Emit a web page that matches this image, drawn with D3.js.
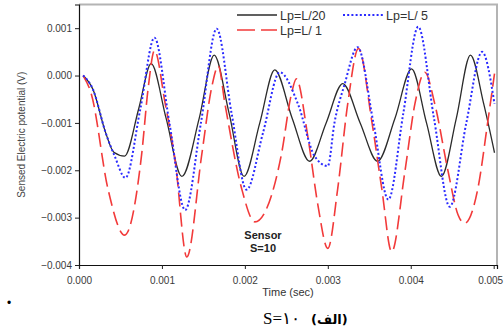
<!DOCTYPE html>
<html>
<head>
<meta charset="utf-8">
<script src="https://cdn.jsdelivr.net/npm/d3@7"></script>
<style>
  body { margin: 0; background: #fff; }
  svg { display: block; }
</style>
</head>
<body>
<div id="chart"></div>
<script>
// time (s) and sensed potential (V)
const lpL20 = [
  [0.00005, 0.0000], [0.00017, -0.0003], [0.00032, -0.0012], [0.00042, -0.00162],
  [0.00055, -0.00170], [0.00072, -0.0007], [0.00087, 0.00025], [0.00105, -0.0009],
  [0.00124, -0.00213], [0.00145, -0.0009], [0.00163, 0.00043], [0.00181, -0.0008],
  [0.00199, -0.00213], [0.00218, -0.0010], [0.00236, 0.00012], [0.00257, -0.0009],
  [0.00278, -0.00181], [0.00298, -0.0010], [0.00318, -0.00017], [0.00339, -0.0010],
  [0.00360, -0.00181], [0.00381, -0.0009], [0.00401, 0.00014], [0.00419, -0.0010],
  [0.00437, -0.00213], [0.00455, -0.0009], [0.00472, 0.00043], [0.00488, -0.0006],
  [0.00501, -0.00163]
];

const lpL5 = [
  [0.00005, 0.0000], [0.00017, -0.0003], [0.00032, -0.0012], [0.00043, -0.0017],
  [0.00056, -0.00216], [0.00074, -0.0007], [0.00091, 0.00080], [0.00109, -0.0010],
  [0.00128, -0.00284], [0.00147, -0.0010], [0.00166, 0.00099], [0.00184, -0.0008],
  [0.00202, -0.00241], [0.00222, -0.0012], [0.00242, 0.00007], [0.00264, -0.0006],
  [0.00284, -0.0017], [0.00300, -0.00191], [0.00308, -0.0010], [0.00320, -0.0002],
  [0.00336, 0.00060], [0.00355, -0.0010], [0.00373, -0.00262], [0.00391, -0.0008],
  [0.00409, 0.00103], [0.00428, -0.0009], [0.00447, -0.00277], [0.00467, -0.0010],
  [0.00486, 0.00050], [0.00501, -0.00060]
];

const lpL1 = [
  [0.00005, 0.0000], [0.00015, -0.0004], [0.00035, -0.0024], [0.00055, -0.00337],
  [0.000755, -0.00167], [0.000835, -0.00025], [0.00091, 0.00053], [0.00104, -0.0006],
  [0.00116, -0.0018], [0.00130, -0.00383], [0.00148, -0.00167], [0.00160, -0.00025],
  [0.00168, 0.00020], [0.00176, -0.0006], [0.00196, -0.00238], [0.00212, -0.00309],
  [0.00244, -0.00167], [0.00256, -0.0004], [0.00262, -0.00007], [0.00276, -0.0013],
  [0.00288, -0.00273], [0.00300, -0.00365], [0.00312, -0.00238], [0.00324, -0.0006],
  [0.00337, 0.00057], [0.00353, -0.00096], [0.00365, -0.00238], [0.00377, -0.00372],
  [0.00393, -0.00202], [0.00405, -0.0006], [0.00417, 0.00007], [0.00429, -0.0006],
  [0.00445, -0.00202], [0.00457, -0.00294], [0.00465, -0.00312], [0.00481, -0.00238],
  [0.00493, -0.00096], [0.00501, 0.00004]
];

const xTicks = [0, 0.001, 0.002, 0.003, 0.004, 0.005];
const yTicks = [-0.004, -0.003, -0.002, -0.001, 0.000, 0.001];

const series = [
  { name: "Lp=L/20", data: lpL20, color: "#2b2b2b", dash: null, width: 1.3 },
  { name: "Lp=L/ 5", data: lpL5, color: "#2a2aff", dash: "2,2.2", width: 2 },
  { name: "Lp=L/ 1", data: lpL1, color: "#f23a3a", dash: "14,6", width: 1.6 }
];

const width = 504, height = 329;
const margin = { top: 4.5, right: 7, bottom: 64, left: 79 };

const svg = d3.select("#chart").append("svg")
  .attr("width", width)
  .attr("height", height)
  .style("font-family", "Arial, 'Liberation Sans', sans-serif");

const x = d3.scaleLinear()
  .domain([0, 0.00504])
  .range([margin.left, width - margin.right]);

const y = d3.scaleLinear()
  .domain([-0.004, 0.0015])
  .range([height - margin.bottom, margin.top]);

// frame (top and right, light gray)
svg.append("path")
  .attr("d", `M${x.range()[0]},${y(0.0015)}H${x.range()[1]}V${y(-0.004)}`)
  .attr("fill", "none")
  .attr("stroke", "#b4b4b4")
  .attr("stroke-width", 2);

// x axis
const xAxis = svg.append("g")
  .attr("transform", `translate(0,${y(-0.004)})`);
xAxis.call(d3.axisBottom(x)
  .tickValues(d3.range(0, 0.00501, 0.0002))
  .tickSize(3)
  .tickFormat(""));
xAxis.call(d3.axisBottom(x)
  .tickValues(xTicks)
  .tickSize(4)
  .tickPadding(8)
  .tickFormat(d3.format(".3f")));

// y axis
const yAxis = svg.append("g")
  .attr("transform", `translate(${margin.left},0)`);
yAxis.call(d3.axisLeft(y)
  .tickValues(d3.range(-0.004, 0.0016, 0.0005))
  .tickSize(3)
  .tickFormat(""));
yAxis.call(d3.axisLeft(y)
  .tickValues(yTicks)
  .tickSize(4)
  .tickPadding(3)
  .tickFormat(d3.format(".3f")));

svg.selectAll(".domain").attr("stroke", "#111").attr("stroke-width", 1.2);
svg.selectAll(".tick line").attr("stroke", "#222");
svg.selectAll(".tick text")
  .attr("fill", "#3a3a3a")
  .style("font-size", "10px")
  .style("font-family", "Arial, 'Liberation Sans', sans-serif");

// last x label sits flush against the page edge
xAxis.selectAll(".tick text")
  .filter(d => d === 0.005)
  .attr("text-anchor", "end")
  .attr("dx", 9);

// curves
const line = d3.line()
  .x(d => x(d[0]))
  .y(d => y(d[1]))
  .curve(d3.curveMonotoneX);

svg.append("g")
  .selectAll("path")
  .data([series[0], series[2], series[1]])
  .join("path")
  .attr("d", d => line(d.data))
  .attr("fill", "none")
  .attr("stroke", d => d.color)
  .attr("stroke-width", d => d.width)
  .attr("stroke-dasharray", d => d.dash);

// legend
const legendItems = [
  { s: series[0], lx: 237, ly: 15 },
  { s: series[1], lx: 343, ly: 15 },
  { s: series[2], lx: 237, ly: 30 }
];
const legend = svg.append("g");
legend.selectAll("line")
  .data(legendItems)
  .join("line")
  .attr("x1", d => d.lx)
  .attr("x2", d => d.lx + 40)
  .attr("y1", d => d.ly)
  .attr("y2", d => d.ly)
  .attr("stroke", d => d.s.color)
  .attr("stroke-width", d => d.s.width)
  .attr("stroke-dasharray", d => d.s.dash === "14,6" ? "18,6" : d.s.dash);
legend.selectAll("text")
  .data(legendItems)
  .join("text")
  .attr("x", d => d.lx + 43)
  .attr("y", d => d.ly + 4.5)
  .attr("fill", "#333")
  .style("font-size", "12.5px")
  .text(d => d.s.name);

// annotation
svg.append("text")
  .attr("x", 263).attr("y", 239)
  .attr("text-anchor", "middle")
  .attr("font-weight", "bold")
  .attr("fill", "#222")
  .style("font-size", "11px")
  .text("Sensor");
svg.append("text")
  .attr("x", 263).attr("y", 252)
  .attr("text-anchor", "middle")
  .attr("font-weight", "bold")
  .attr("fill", "#222")
  .style("font-size", "11px")
  .text("S=10");

// axis titles
svg.append("text")
  .attr("x", 288).attr("y", 296)
  .attr("text-anchor", "middle")
  .attr("fill", "#333")
  .style("font-size", "11px")
  .text("Time (sec)");

svg.append("text")
  .attr("transform", `translate(25,${(y(0.0015) + y(-0.004)) / 2}) rotate(-90)`)
  .attr("text-anchor", "middle")
  .attr("fill", "#444")
  .style("font-size", "10px")
  .text("Sensed Electric potential (V)");

// caption below the figure
svg.append("text")
  .attr("x", 7).attr("y", 307)
  .attr("fill", "#000")
  .style("font-size", "12px")
  .text("•");
svg.append("text")
  .attr("x", 300).attr("y", 324)
  .attr("text-anchor", "end")
  .attr("fill", "#000")
  .style("font-family", "'Liberation Serif', 'Times New Roman', serif")
  .style("font-size", "17px")
  .text("S=١٠");
svg.append("text")
  .attr("x", 311).attr("y", 324)
  .attr("fill", "#000")
  .attr("font-weight", "bold")
  .style("font-family", "'DejaVu Sans', sans-serif")
  .style("font-size", "13px")
  .text("(الف)");
</script>
</body>
</html>
